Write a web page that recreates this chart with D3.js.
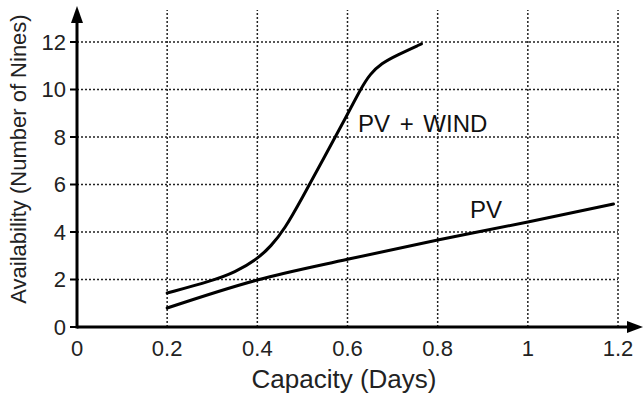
<!DOCTYPE html>
<html>
<head>
<meta charset="utf-8">
<script src="https://cdn.jsdelivr.net/npm/d3@7"></script>
<style>
  html, body { margin: 0; padding: 0; background: #fff; }
  svg { display: block; font-family: "Liberation Sans", Arial, sans-serif; }
</style>
</head>
<body>
<svg id="chart" width="643" height="397"></svg>
<script>
// ---- data ----
const xTicks = [0, 0.2, 0.4, 0.6, 0.8, 1, 1.2];
const xTickLabels = ["0", "0.2", "0.4", "0.6", "0.8", "1", "1.2"];
const yTicks = [0, 2, 4, 6, 8, 10, 12];
const yTickLabels = ["0", "2", "4", "6", "8", "10", "12"];

const pvWindX = [0.2, 0.3, 0.35, 0.4, 0.43, 0.46, 0.5, 0.55, 0.6, 0.63, 0.65, 0.675, 0.71, 0.764];
const pvWindY = [1.43, 1.95, 2.3, 2.86, 3.4, 4.1, 5.45, 7.2, 8.95, 10.05, 10.65, 11.1, 11.45, 11.92];

const pvX = [0.2, 0.4, 0.6, 0.8, 1.0, 1.19];
const pvY = [0.8, 1.98, 2.85, 3.66, 4.42, 5.18];

const xTitle = "Capacity (Days)";
const yTitle = "Availability (Number of Nines)";
const labelPvWind = "PV + WIND";
const labelPv = "PV";

// ---- chart ----
const svg = d3.select("#chart");
const x = d3.scaleLinear().domain([0, 1.2]).range([77, 618]);
const y = d3.scaleLinear().domain([0, 12]).range([327, 42]);
const gridTop = y(13.35);

// grid
const grid = svg.append("g").attr("stroke", "#222").attr("stroke-width", 1.5).attr("stroke-dasharray", "2,2");
grid.selectAll("line.v").data(xTicks.filter(d => d > 0)).join("line")
  .attr("class", "v")
  .attr("x1", d => x(d)).attr("x2", d => x(d))
  .attr("y1", y(0)).attr("y2", gridTop);
grid.selectAll("line.h").data(yTicks.filter(d => d > 0)).join("line")
  .attr("class", "h")
  .attr("x1", x(0)).attr("x2", x(1.2))
  .attr("y1", d => y(d)).attr("y2", d => y(d));

// lines
const lineSmooth = d3.line().x(d => x(d[0])).y(d => y(d[1])).curve(d3.curveBasis);
const lineCR = d3.line().x(d => x(d[0])).y(d => y(d[1])).curve(d3.curveCatmullRom.alpha(0.5));
svg.append("path").datum(pvWindX.map((v, i) => [v, pvWindY[i]]))
  .attr("d", lineSmooth).attr("fill", "none").attr("stroke", "#000").attr("stroke-width", 3)
  .attr("stroke-linecap", "round");
svg.append("path").datum(pvX.map((v, i) => [v, pvY[i]]))
  .attr("d", lineCR).attr("fill", "none").attr("stroke", "#000").attr("stroke-width", 3)
  .attr("stroke-linecap", "round");

// axes
const axisColor = "#000";
svg.append("line").attr("x1", x(0)).attr("x2", 630).attr("y1", y(0)).attr("y2", y(0))
  .attr("stroke", axisColor).attr("stroke-width", 3);
svg.append("path").attr("d", `M643,${y(0)} L627,${y(0) - 6} L627,${y(0) + 6} Z`).attr("fill", axisColor);
svg.append("line").attr("x1", x(0)).attr("x2", x(0)).attr("y1", y(0) + 1.5).attr("y2", 20)
  .attr("stroke", axisColor).attr("stroke-width", 3);
svg.append("path").attr("d", `M${x(0)},6 L${x(0) - 6},23 L${x(0) + 6},23 Z`).attr("fill", axisColor);

// y ticks
svg.append("g").selectAll("line").data(yTicks).join("line")
  .attr("x1", x(0) - 7).attr("x2", x(0)).attr("y1", d => y(d)).attr("y2", d => y(d))
  .attr("stroke", axisColor).attr("stroke-width", 2);
svg.append("g").selectAll("text").data(yTicks).join("text")
  .attr("x", 66).attr("y", d => y(d)).attr("dy", "0.36em")
  .attr("text-anchor", "end").attr("font-size", 22).attr("fill", "#222")
  .text((d, i) => yTickLabels[i]);

// x tick labels
svg.append("g").selectAll("text").data(xTicks).join("text")
  .attr("x", d => x(d)).attr("y", 356)
  .attr("text-anchor", "middle").attr("font-size", 22).attr("fill", "#222")
  .text((d, i) => xTickLabels[i]);

// titles
svg.append("text").attr("x", 344).attr("y", 388).attr("text-anchor", "middle")
  .attr("font-size", 26).attr("fill", "#222").text(xTitle);
svg.append("text").attr("transform", "translate(26,159) rotate(-90)").attr("text-anchor", "middle")
  .attr("font-size", 22).attr("fill", "#222").text(yTitle);

// series labels
svg.append("text").attr("x", 358).attr("y", 132).attr("font-size", 24).attr("fill", "#111")
  .attr("word-spacing", 3).text(labelPvWind);
svg.append("text").attr("x", 470).attr("y", 218).attr("font-size", 24).attr("fill", "#111")
  .text(labelPv);
</script>
</body>
</html>
